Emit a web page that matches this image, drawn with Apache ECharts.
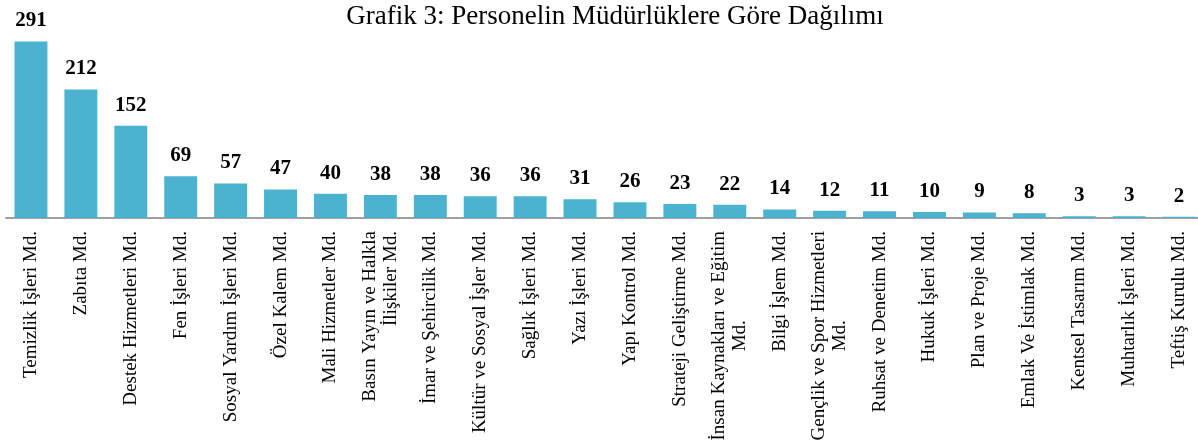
<!DOCTYPE html>
<html>
<head>
<meta charset="utf-8">
<script src="https://cdn.jsdelivr.net/npm/echarts@6/dist/echarts.min.js"></script>
<style>
  html, body { margin: 0; padding: 0; background: #fff; }
  #main { width: 1198px; height: 441px; }
</style>
</head>
<body>
<div id="main"></div>
<script>
// müdürlük adları (iki satırlık olanlarda \n var)
const categories = [
  'Temizlik İşleri Md.',
  'Zabıta Md.',
  'Destek Hizmetleri Md.',
  'Fen İşleri Md.',
  'Sosyal Yardım İşleri Md.',
  'Özel Kalem Md.',
  'Mali Hizmetler Md.',
  'Basın Yayın ve Halkla\nİlişkiler Md.',
  'İmar ve Şehircilik Md.',
  'Kültür ve Sosyal İşler Md.',
  'Sağlık İşleri Md.',
  'Yazı İşleri Md.',
  'Yapı Kontrol Md.',
  'Strateji Geliştirme Md.',
  'İnsan Kaynakları ve Eğitim\nMd.',
  'Bilgi İşlem Md.',
  'Gençlik ve Spor Hizmetleri\nMd.',
  'Ruhsat ve Denetim Md.',
  'Hukuk İşleri Md.',
  'Plan ve Proje Md.',
  'Emlak Ve İstimlak Md.',
  'Kentsel Tasarım Md.',
  'Muhtarlık İşleri Md.',
  'Teftiş Kurulu Md.'
]
// personel sayıları
const personel = [291, 212, 152, 69, 57, 47, 40, 38, 38, 36, 36, 31, 26, 23, 22, 14, 12, 11, 10, 9, 8, 3, 3, 2]

const serif = '"Liberation Serif", "Times New Roman", serif'

const chart = echarts.init(document.getElementById('main'))
chart.setOption({
  animation: false,
  title: {
    text: 'Grafik 3: Personelin Müdürlüklere Göre Dağılımı',
    left: 610,
    top: -2,
    textAlign: 'center',
    textStyle: {
      fontFamily: serif,
      fontSize: 27,
      fontWeight: 'normal',
      color: '#000'
    }
  },
  grid: {
    left: 6,
    right: -6,
    top: 36,
    bottom: 223,
    outerBoundsMode: 'none'
  },
  xAxis: {
    type: 'category',
    data: categories,
    axisLine: { lineStyle: { color: '#a0a0a0', width: 2 } },
    axisTick: { show: false },
    axisLabel: {
      interval: 0,
      rotate: 90,
      margin: 13,
      fontFamily: serif,
      fontSize: 19,
      lineHeight: 21,
      color: '#000',
      formatter: function (v) {
        // ikinci satırı tek başına "Md." olanları ortala
        const parts = v.split('\n')
        if (parts.length === 2 && parts[1] === 'Md.') {
          return parts[0] + '\n{c|' + parts[1] + '}'
        }
        return v
      },
      rich: {
        c: {
          align: 'center',
          fontFamily: serif,
          fontSize: 19,
          lineHeight: 21,
          color: '#000'
        }
      }
    }
  },
  yAxis: {
    type: 'value',
    min: 0,
    max: 300,
    show: false,
    splitLine: { show: false }
  },
  series: [
    {
      type: 'bar',
      data: personel,
      barCategoryGap: '34%',
      itemStyle: { color: '#4bb2d0' },
      label: {
        show: true,
        position: 'top',
        distance: 10,
        fontFamily: serif,
        fontSize: 21,
        fontWeight: 'bold',
        color: '#000'
      }
    }
  ]
})
</script>
</body>
</html>
